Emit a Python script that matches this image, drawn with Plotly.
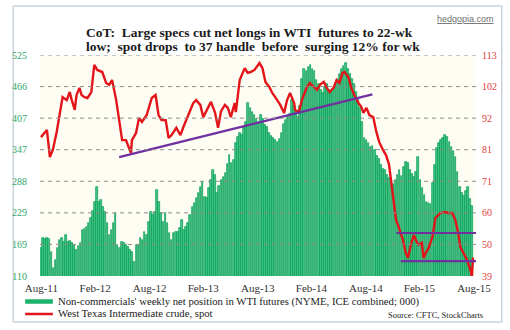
import numpy as np
import pandas as pd
import plotly.graph_objects as go

# ---- CoT: non-commercial net position in WTI futures (000 contracts), weekly ----
cot_start = "2011-08-30"
net_position = [
    163, 181, 179, 182, 180, 155, 125, 140, 163, 178,
    181, 174, 187, 174, 176, 172, 168, 159, 166, 172,
    196, 199, 202, 210, 219, 232, 249, 277, 249, 253,
    240, 230, 210, 187, 196, 210, 228, 168, 163, 174,
    172, 168, 165, 159, 155, 136, 168, 168, 181, 178,
    193, 187, 211, 230, 225, 230, 271, 249, 228, 211,
    228, 209, 191, 178, 191, 193, 193, 200, 215, 196,
    202, 209, 225, 240, 247, 256, 266, 277, 286, 258,
    256, 275, 290, 309, 300, 266, 280, 290, 296, 303,
    320, 337, 322, 328, 360, 371, 379, 375, 390, 400,
    435, 425, 418, 412, 405, 400, 412, 405, 394, 390,
    379, 374, 370, 365, 362, 368, 378, 395, 403, 409,
    415, 440, 430, 420, 409, 430, 480, 500, 495, 502,
    506, 500, 495, 478, 470, 460, 454, 465, 470, 460,
    455, 462, 472, 480, 490, 500, 505, 510, 500, 490,
    480, 470, 455, 440, 425, 400, 370, 365, 360, 352,
    355, 347, 335, 330, 318, 312, 309, 300, 294, 285,
    283, 290, 300, 309, 298, 315, 324, 322, 310, 302,
    296, 305, 333, 290, 275, 262, 250, 247, 245, 285,
    318, 350, 360, 365, 370, 375, 372, 362, 352, 345,
    333, 305, 277, 266, 260, 270, 277, 255, 241,
]
cot_dates = pd.date_range(cot_start, periods=len(net_position), freq="7D")

# ---- West Texas Intermediate crude, spot ($) ----
wti_dates = [
    "2011-08-30", "2011-09-19", "2011-09-29", "2011-10-09", "2011-10-22",
    "2011-11-01", "2011-11-11", "2011-11-25", "2011-12-05", "2011-12-12",
    "2011-12-22", "2011-12-28", "2012-01-07", "2012-01-14", "2012-01-24",
    "2012-02-03", "2012-02-16", "2012-02-26", "2012-03-07", "2012-03-24",
    "2012-04-06", "2012-04-16", "2012-04-26", "2012-05-10", "2012-05-20",
    "2012-05-30", "2012-06-12", "2012-06-22", "2012-06-29", "2012-07-02",
    "2012-07-16", "2012-07-26", "2012-08-05", "2012-08-21", "2012-09-07",
    "2012-09-20", "2012-09-30", "2012-10-10", "2012-10-24", "2012-11-03",
    "2012-11-13", "2012-11-29", "2012-12-13", "2012-12-23", "2013-01-09",
    "2013-01-25", "2013-02-04", "2013-02-18", "2013-02-28", "2013-03-16",
    "2013-03-26", "2013-04-09", "2013-04-19", "2013-04-29", "2013-05-12",
    "2013-05-22", "2013-06-01", "2013-06-14", "2013-06-18", "2013-07-01",
    "2013-07-18", "2013-07-28", "2013-08-07", "2013-08-20", "2013-09-06",
    "2013-09-16", "2013-09-26", "2013-10-09", "2013-10-19", "2013-10-29",
    "2013-11-15", "2013-11-28", "2013-12-08", "2013-12-18", "2014-01-01",
    "2014-01-04", "2014-01-17", "2014-01-27", "2014-02-13", "2014-02-23",
    "2014-03-09", "2014-03-19", "2014-03-29", "2014-04-11", "2014-04-21",
    "2014-05-01", "2014-05-14", "2014-05-24", "2014-06-03", "2014-06-13",
    "2014-06-20", "2014-07-03", "2014-07-13", "2014-07-23", "2014-08-06",
    "2014-08-16", "2014-08-23", "2014-09-02", "2014-09-12", "2014-09-25",
    "2014-10-05", "2014-10-15", "2014-10-28", "2014-11-07", "2014-11-17",
    "2014-11-24", "2014-12-01", "2014-12-11", "2014-12-21", "2015-01-03",
    "2015-01-13", "2015-01-20", "2015-01-30", "2015-02-09", "2015-02-19",
    "2015-02-25", "2015-03-08", "2015-03-14", "2015-03-21", "2015-03-31",
    "2015-04-13", "2015-04-23", "2015-05-10", "2015-05-27", "2015-06-06",
    "2015-06-19", "2015-06-29", "2015-07-09", "2015-07-16", "2015-07-26",
    "2015-08-08", "2015-08-14", "2015-08-21", "2015-08-24", "2015-08-28",
]
wti_spot = [
    85.5, 87.9, 78.8, 81.2, 87.2,
    93.9, 98.9, 97.9, 100.6, 97.9,
    94.6, 99.6, 102.0, 99.6, 98.9,
    98.6, 100.6, 109.7, 108.0, 107.3,
    103.6, 103.0, 104.6, 97.9, 91.9,
    84.5, 84.5, 82.2, 80.2, 84.5,
    86.9, 91.9, 90.6, 92.9, 98.6,
    99.6, 92.9, 91.2, 91.2, 85.2,
    86.2, 88.6, 86.2, 88.9, 92.9,
    96.9, 97.9, 96.3, 92.2, 95.3,
    97.3, 93.6, 88.6, 94.2, 96.3,
    95.3, 92.2, 96.9, 93.9, 104.6,
    108.6, 107.0, 107.3, 108.0, 110.3,
    108.6, 104.0, 102.3, 100.3, 98.9,
    96.3, 93.6, 97.9, 100.3, 96.9,
    94.6, 93.9, 97.9, 102.3, 103.6,
    102.3, 101.3, 103.0, 104.0, 102.0,
    100.6, 102.0, 104.6, 103.6, 107.0,
    107.3, 105.6, 102.0, 99.6, 96.9,
    95.6, 93.6, 95.3, 92.9, 92.2,
    87.5, 83.9, 81.2, 79.5, 76.5,
    71.2, 65.5, 57.8, 55.1, 51.1,
    46.7, 45.0, 49.4, 52.7, 50.4,
    49.4, 50.1, 45.0, 46.7, 48.4,
    52.1, 58.4, 60.1, 60.4, 60.1,
    60.1, 57.8, 53.4, 48.7, 46.7,
    44.4, 42.5, 40.4, 38.6, 45.2,
]

# ---- trend / support lines drawn on the WTI scale ----
uptrend_dates = ["2012-05-20", "2014-09-22"]
uptrend_vals = [78.8, 99.8]
resistance_dates = ["2014-12-12", "2015-09-07"]
resistance_vals = [53.4, 53.4]
support_dates = ["2014-12-27", "2015-09-07"]
support_vals = [44.0, 44.0]

# ---- axis ticks ----
x_tick_dates = ["2011-08-31", "2012-02-29", "2012-08-31", "2013-02-28", "2013-08-31",
                "2014-02-28", "2014-08-31", "2015-02-28", "2015-08-31"]
x_tick_labels = ["Aug-11", "Feb-12", "Aug-12", "Feb-13", "Aug-13",
                 "Feb-14", "Aug-14", "Feb-15", "Aug-15"]
left_range = [110, 525.4]
left_labels = ["110", "169", "229", "288", "347", "407", "466", "525"]
right_range = [39, 113]
right_labels = ["39", "50", "60", "71", "81", "92", "102", "113"]

left_ticks = np.linspace(left_range[0], left_range[1], len(left_labels))
right_ticks = np.linspace(right_range[0], right_range[1], len(right_labels))

SERIF = "Liberation Serif, Times New Roman, serif"
RED = "#E3151A"
PURPLE = "#7030A0"

fig = go.Figure()

fig.add_trace(go.Bar(
    x=cot_dates, y=net_position,
    width=5.4 * 24 * 3600 * 1000,
    marker=dict(color="#45C387", line=dict(color="#009E52", width=0.7)),
    name="Non-commercials' weekly net position in WTI futures",
))
fig.add_trace(go.Scatter(
    x=wti_dates, y=wti_spot, yaxis="y2", mode="lines",
    line=dict(color=RED, width=2.4),
    name="West Texas Intermediate crude, spot",
))
for xs, ys in [(uptrend_dates, uptrend_vals),
               (resistance_dates, resistance_vals),
               (support_dates, support_vals)]:
    fig.add_trace(go.Scatter(x=xs, y=ys, yaxis="y2", mode="lines",
                             line=dict(color=PURPLE, width=2.2), hoverinfo="skip"))

shapes = []
# outer frame
shapes.append(dict(type="rect", xref="paper", yref="paper",
                   x0=-0.0612, x1=1.059, y0=-0.208, y1=1.2217,
                   line=dict(color="#C9D3DE", width=1.5), fillcolor="rgba(0,0,0,0)",
                   layer="below"))
# dashed grid, over the bars
for v in left_ticks[1:]:
    shapes.append(dict(type="line", xref="paper", yref="y", x0=0, x1=1, y0=v, y1=v,
                       line=dict(color="#8E8E8E", width=1, dash="4px,4px"), layer="above"))

# legend swatches
def px_x(p):
    return (p - 35) / 441

def px_y(p):
    return 1 - (p - 55) / 221

shapes.append(dict(type="line", xref="paper", yref="paper",
                   x0=px_x(20), x1=px_x(48), y0=px_y(301.5), y1=px_y(301.5),
                   line=dict(color="#1DB36B", width=4.5)))
shapes.append(dict(type="line", xref="paper", yref="paper",
                   x0=px_x(20), x1=px_x(48), y0=px_y(314), y1=px_y(314),
                   line=dict(color=RED, width=2.5)))

annotations = [
    dict(text="<b>CoT:  Large specs cut net longs in WTI  futures to 22-wk</b>",
         x=px_x(79), y=px_y(33), xref="paper", yref="paper",
         xanchor="left", yanchor="middle", showarrow=False,
         font=dict(family=SERIF, size=13.5, color="#1A1A1A")),
    dict(text="<b>low;  spot drops  to 37 handle  before  surging 12% for wk</b>",
         x=px_x(79), y=px_y(46.5), xref="paper", yref="paper",
         xanchor="left", yanchor="middle", showarrow=False,
         font=dict(family=SERIF, size=13.5, color="#1A1A1A")),
    dict(text="<u>hedgopia.com</u>",
         x=px_x(465), y=px_y(19), xref="paper", yref="paper",
         xanchor="center", yanchor="middle", showarrow=False,
         font=dict(family="Liberation Sans, Arial, sans-serif", size=9, color="#6E6E6E")),
    dict(text="Non-commercials' weekly net position in WTI futures (NYME, ICE combined; 000)",
         x=px_x(51), y=px_y(301), xref="paper", yref="paper",
         xanchor="left", yanchor="middle", showarrow=False,
         font=dict(family=SERIF, size=10.7, color="#222222")),
    dict(text="West Texas Intermediate crude, spot",
         x=px_x(51), y=px_y(313), xref="paper", yref="paper",
         xanchor="left", yanchor="middle", showarrow=False,
         font=dict(family=SERIF, size=10.7, color="#222222")),
    dict(text="Source: CFTC, StockCharts",
         x=px_x(485), y=px_y(314.5), xref="paper", yref="paper",
         xanchor="right", yanchor="middle", showarrow=False,
         font=dict(family=SERIF, size=8.5, color="#222222")),
]

fig.update_layout(
    width=510, height=330,
    margin=dict(l=35, r=34, t=55, b=54),
    paper_bgcolor="white",
    plot_bgcolor="#FDFDF4",
    showlegend=False,
    bargap=0,
    font=dict(family=SERIF),
    xaxis=dict(
        type="date", range=["2011-08-26 16:00", "2015-09-07"],
        tickvals=x_tick_dates, ticktext=x_tick_labels,
        tickfont=dict(family=SERIF, size=11, color="#333333"),
        showgrid=False, showline=False, zeroline=False, ticks="",
        ticklabelstandoff=4,
    ),
    yaxis=dict(
        range=left_range, tickvals=left_ticks, ticktext=left_labels,
        tickfont=dict(family=SERIF, size=10, color="#2FA86A"),
        showgrid=False, zeroline=False, showline=False, ticks="",
        ticklabelstandoff=12,
    ),
    yaxis2=dict(
        overlaying="y", side="right",
        range=right_range, tickvals=right_ticks, ticktext=right_labels,
        tickfont=dict(family=SERIF, size=10, color="#E23B3B"),
        showgrid=False, zeroline=False, showline=False, ticks="",
        ticklabelstandoff=5,
    ),
    shapes=shapes,
    annotations=annotations,
)

fig.write_html("out.html")
